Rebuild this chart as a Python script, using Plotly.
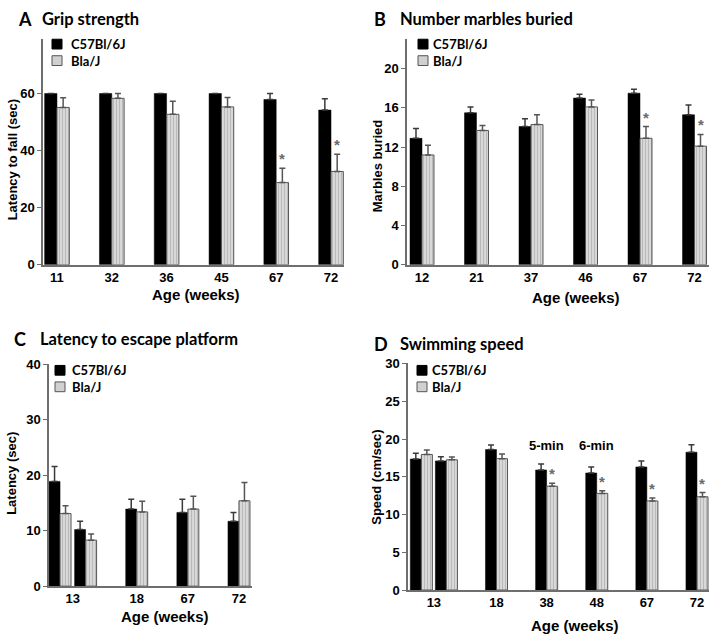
import plotly.graph_objects as go

# ---- data ----
# A: grip strength, latency to fall (sec)
a_ages = ["11", "32", "36", "45", "67", "72"]
a_wt = [60, 60, 60, 60, 57.9, 54.2]
a_wt_err = [0, 0, 0, 0, 2.1, 4.0]
a_bla = [55.1, 58.3, 52.7, 55.3, 28.8, 32.7]
a_bla_err = [3.4, 1.7, 4.6, 3.3, 5.0, 6.0]
a_sig = [0, 0, 0, 0, 1, 1]

# B: marbles buried
b_ages = ["12", "21", "37", "46", "67", "72"]
b_wt = [12.9, 15.5, 14.1, 17.0, 17.5, 15.3]
b_wt_err = [1.0, 0.6, 0.8, 0.4, 0.4, 1.0]
b_bla = [11.2, 13.7, 14.3, 16.1, 12.9, 12.1]
b_bla_err = [1.0, 0.5, 1.0, 0.7, 1.2, 1.2]
b_sig = [0, 0, 0, 0, 1, 1]

# C: latency to escape platform (sec), two sessions at 13 weeks
c_ages = ["13", "13", "18", "67", "72"]
c_wt = [18.9, 10.2, 13.9, 13.3, 11.7]
c_wt_err = [2.7, 1.5, 1.8, 2.4, 1.6]
c_bla = [13.1, 8.3, 13.4, 13.9, 15.4]
c_bla_err = [1.4, 1.1, 1.9, 2.3, 3.3]
c_sig = [0, 0, 0, 0, 0]

# D: swimming speed (cm/sec)
d_ages = ["13", "13", "18", "38", "48", "67", "72"]
d_wt = [17.35, 17.1, 18.6, 15.9, 15.5, 16.3, 18.25]
d_wt_err = [0.75, 0.55, 0.6, 0.8, 0.8, 0.8, 1.0]
d_bla = [17.95, 17.25, 17.4, 13.75, 12.8, 11.8, 12.35]
d_bla_err = [0.6, 0.35, 0.6, 0.4, 0.35, 0.4, 0.55]
d_sig = [0, 0, 0, 1, 1, 1, 1]
d_notes = {"38": "5-min", "48": "6-min"}
d_note_y = 19.2

groups = ["C57Bl/6J", "Bla/J"]

W, H = 709, 642
def px(x):
    return x / W
def py(y):
    return 1 - y / H

TICK = dict(family="Liberation Sans, Arial", size=13, color="black", weight="bold")
AXT = dict(family="Liberation Sans, Arial", size=13, color="black", weight="bold")
XT = dict(family="Liberation Sans, Arial", size=15, color="black", weight="bold")
HEAD = dict(family="Lato", size=16.5, color="black", weight="bold")
LEG_SIZE = 13
LEG = dict(family="Lato", size=LEG_SIZE, color="black", weight="bold")
AX_COL = "#6e6e6e"

GRAY_MARKER = dict(color="#d4d4d4", line=dict(color="#555555", width=1),
                   pattern=dict(shape="|", fgcolor="#9a9a9a", bgcolor="#d8d8d8",
                                size=3, solidity=0.35))

panels = [
    dict(letter="A", title="Grip strength", ytitle="Latency to fall (sec)",
         ages=a_ages, wt=a_wt, wt_err=a_wt_err, bla=a_bla, bla_err=a_bla_err, sig=a_sig,
         box=(43, 344, 33, 264), xr=(-0.255, 5.237), ymax=79, dtick=20, w=0.225,
         head=(16, 40, 12), leg=(52, 38, 69), yt=(12, 157), xt=(196, 294)),
    dict(letter="B", title="Number marbles buried", ytitle="Marbles buried",
         ages=b_ages, wt=b_wt, wt_err=b_wt_err, bla=b_bla, bla_err=b_bla_err, sig=b_sig,
         box=(407, 709, 33, 264), xr=(-0.275, 5.266), ymax=23, dtick=4, w=0.22,
         head=(372, 398, 12), leg=(418, 38, 431), yt=(377, 162), xt=(576, 297)),
    dict(letter="C", title="Latency to escape platform", ytitle="Latency (sec)",
         ages=c_ages, wt=c_wt, wt_err=c_wt_err, bla=c_bla, bla_err=c_bla_err, sig=c_sig,
         box=(49, 252, 366, 593), xr=(-0.216, 3.755), ymax=40, dtick=10, w=0.215,
         head=(12, 38, 340), leg=(55, 372, 70), yt=(12, 478), xt=(165, 624)),
    dict(letter="D", title="Swimming speed", ytitle="Speed (cm/sec)",
         ages=d_ages, wt=d_wt, wt_err=d_wt_err, bla=d_bla, bla_err=d_bla_err, sig=d_sig,
         box=(408, 709, 365, 597), xr=(-0.266, 5.74), ymax=30, dtick=5, w=0.22,
         head=(372, 398, 345), leg=(417, 372, 430), yt=(377, 481), xt=(575, 633)),
]


def slots(ages):
    # repeated age -> adjacent group, otherwise one full slot apart
    pos = [0.0]
    for prev, cur in zip(ages, ages[1:]):
        pos.append(pos[-1] + (0.5 if cur == prev else 1.0))
    return pos


fig = go.Figure()
annotations = []
shapes = []

for i, p in enumerate(panels, 1):
    sfx = "" if i == 1 else str(i)
    xa, ya = "x" + sfx, "y" + sfx
    pos = slots(p["ages"])
    n = len(pos)
    w = p["w"]

    fig.add_bar(x=pos, y=p["wt"], width=w, offset=-w, name=groups[0],
                marker=dict(color="black", line=dict(color="black", width=0.5)),
                error_y=dict(type="data", array=p["wt_err"], arrayminus=[0] * n,
                             symmetric=False, color="#3a3a3a", thickness=1.5, width=3),
                xaxis=xa, yaxis=ya, showlegend=False)
    fig.add_bar(x=pos, y=p["bla"], width=w, offset=0, name=groups[1],
                marker=GRAY_MARKER,
                error_y=dict(type="data", array=p["bla_err"], arrayminus=[0] * n,
                             symmetric=False, color="#555555", thickness=1.5, width=3),
                xaxis=xa, yaxis=ya, showlegend=False)

    # tick labels centred under each age (both sessions for repeated ages)
    ticks = {}
    for a, x in zip(p["ages"], pos):
        ticks.setdefault(a, []).append(x)
    tickvals = [sum(v) / len(v) for v in ticks.values()]

    x0, x1, y0, y1 = p["box"]
    fig.layout["xaxis" + sfx] = dict(
        domain=[px(x0), px(x1)], range=list(p["xr"]), anchor=ya,
        tickvals=tickvals, ticktext=list(ticks.keys()), ticks="",
        tickfont=TICK, showline=True, linecolor=AX_COL, linewidth=1.5,
        showgrid=False, zeroline=False, fixedrange=True)
    fig.layout["yaxis" + sfx] = dict(
        domain=[py(y1), py(y0)], range=[0, p["ymax"]], anchor=xa,
        tickmode="linear", tick0=0, dtick=p["dtick"], ticks="outside", ticklen=4,
        tickcolor=AX_COL, tickfont=TICK, showline=True, linecolor=AX_COL,
        linewidth=1.5, showgrid=False, zeroline=False, fixedrange=True)

    # significance stars above the Bla/J error bars
    for x, v, e, s in zip(pos, p["bla"], p["bla_err"], p["sig"]):
        if s:
            annotations.append(dict(x=x + w / 2, y=v + e, xref=xa, yref=ya, text="*",
                                    showarrow=False, yanchor="bottom", yshift=-1,
                                    font=dict(family="Liberation Sans", size=15,
                                              color="#6a6a6a", weight="bold")))

    # panel letter + heading
    hx_letter, hx_text, hy = p["head"]
    annotations.append(dict(x=px(hx_letter), y=py(hy), xref="paper", yref="paper",
                            text=p["letter"], showarrow=False, xanchor="left",
                            yanchor="middle", font=dict(HEAD, size=18)))
    annotations.append(dict(x=px(hx_text), y=py(hy), xref="paper", yref="paper",
                            text=p["title"], showarrow=False, xanchor="left",
                            yanchor="middle", font=HEAD))

    # axis titles
    ytx, yty = p["yt"]
    annotations.append(dict(x=px(ytx), y=py(yty), xref="paper", yref="paper",
                            text=p["ytitle"], textangle=-90, showarrow=False,
                            xanchor="center", yanchor="middle", font=AXT))
    xtx, xty = p["xt"]
    annotations.append(dict(x=px(xtx), y=py(xty), xref="paper", yref="paper",
                            text="Age (weeks)", showarrow=False,
                            xanchor="center", yanchor="middle", font=XT))

    # legend: two-line label block with a swatch beside each line
    lx, ly, tx = p["leg"]
    dy = LEG_SIZE * 1.3
    for k, (fill, line) in enumerate([("black", "black"), ("#d0d0d0", "#555555")]):
        cy = ly + k * dy
        shapes.append(dict(type="rect", xref="paper", yref="paper",
                           x0=px(lx), x1=px(lx + 10), y0=py(cy + 5), y1=py(cy - 5),
                           fillcolor=fill, line=dict(color=line, width=1)))
    annotations.append(dict(x=px(tx), y=py(ly + dy / 2), xref="paper", yref="paper",
                            text="<br>".join(groups), showarrow=False, xanchor="left",
                            yanchor="middle", align="left", font=LEG))

# D: session-length notes
for age, note in d_notes.items():
    xv = slots(d_ages)[d_ages.index(age)]
    annotations.append(dict(x=xv, y=d_note_y, xref="x4", yref="y4", text=note,
                            showarrow=False, yanchor="middle",
                            font=dict(TICK, size=13)))

fig.update_layout(width=W, height=H, margin=dict(l=0, r=0, t=0, b=0),
                  paper_bgcolor="white", plot_bgcolor="white",
                  barmode="overlay", annotations=annotations, shapes=shapes)

# drop the default page margin so the 709x642 figure fills the window exactly
fig.write_html("out.html", config={"displayModeBar": False},
               post_script="document.body.style.margin='0';document.body.style.overflow='hidden';")
